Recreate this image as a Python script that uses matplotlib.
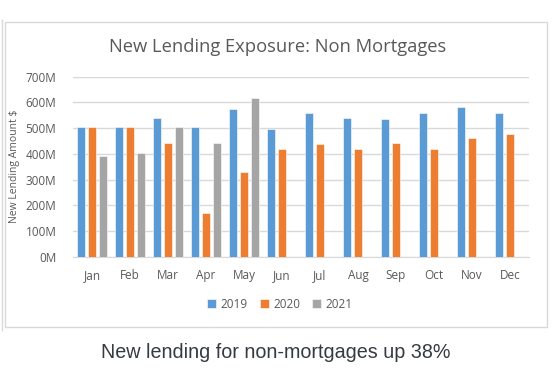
import numpy as np
import matplotlib
matplotlib.use("Agg")
import matplotlib.pyplot as plt
from matplotlib.patches import Rectangle
from matplotlib.lines import Line2D

# Data (millions of $)
months = ["Jan", "Feb", "Mar", "Apr", "May", "Jun",
          "Jul", "Aug", "Sep", "Oct", "Nov", "Dec"]
lending_2019 = [505, 503, 538, 505, 574, 497, 557, 538, 536, 557, 582, 557]
lending_2020 = [503, 503, 444, 171, 330, 419, 438, 419, 444, 419, 462, 479]
lending_2021 = [392, 403, 503, 444, 616, np.nan, np.nan, np.nan, np.nan, np.nan, np.nan, np.nan]
series_labels = ["2019", "2020", "2021"]
y_ticks = [0, 100, 200, 300, 400, 500, 600, 700]

colors = ["#5B9BD5", "#ED7D31", "#A5A5A5"]
text_color = "#595959"

fig = plt.figure(figsize=(5.6, 3.79), dpi=100)
fig.patch.set_facecolor("white")

# chart frame (Excel style light border)
fig.add_artist(Rectangle((5 / 560, 1 - 327 / 379), 542 / 560, 305 / 379,
                         transform=fig.transFigure, fill=False,
                         edgecolor="#D9D9D9", linewidth=1.0))
# faint edge of the neighbouring element at the far left
fig.add_artist(Line2D([1.5 / 560, 1.5 / 560], [1 - 330 / 379, 1 - 20 / 379],
                      transform=fig.transFigure, color="#D9D9D9", linewidth=1.0))

ax = fig.add_axes([73 / 560, 1 - 256.7 / 379, 456 / 560, 180 / 379])

x = np.arange(len(months))
width = 0.21
step = 0.277
for i, (vals, lab) in enumerate(zip([lending_2019, lending_2020, lending_2021], series_labels)):
    ax.bar(x + (i - 1) * step, vals, width, color=colors[i], label=lab,
           edgecolor="white", linewidth=0.4, zorder=3)

ax.set_xlim(-0.5, len(months) - 0.5)
ax.set_ylim(0, 700)
ax.set_yticks(y_ticks)
ax.set_yticklabels([f"{v}M" for v in y_ticks])
ax.set_xticks(x)
ax.set_xticklabels(months)
ax.tick_params(axis="both", length=0, colors=text_color, labelsize=8.5)
ax.tick_params(axis="y", pad=12)
ax.tick_params(axis="x", pad=9)
ax.grid(axis="y", color="#D9D9D9", linewidth=1.0, zorder=0)
for side in ["top", "right", "left"]:
    ax.spines[side].set_visible(False)
ax.spines["bottom"].set_color("#D9D9D9")

for lbl in ax.get_xticklabels() + ax.get_yticklabels():
    lbl.set_family("Open Sans")

ax.set_ylabel("New Lending Amount $", fontsize=7.5, color=text_color,
              family="Open Sans")
ax.yaxis.set_label_coords(-0.116, 0.5)

fig.text(0.495, 1 - 47 / 379, "New Lending Exposure: Non Mortgages",
         ha="center", va="center", fontsize=13.2, color=text_color,
         family="Open Sans")

leg = fig.legend(loc="center", bbox_to_anchor=(0.5, 1 - 304 / 379), ncol=3,
                 frameon=False, handlelength=0.75, handleheight=0.75,
                 handletextpad=0.4, columnspacing=1.0,
                 prop={"family": "Open Sans", "size": 8.5})
for t in leg.get_texts():
    t.set_color(text_color)

fig.text(0.493, 1 - 352 / 379, "New lending for non-mortgages up 38%",
         ha="center", va="center", fontsize=14.2, color="#363b42",
         family="Liberation Sans")

fig.savefig("out.png", dpi=100, facecolor="white")
